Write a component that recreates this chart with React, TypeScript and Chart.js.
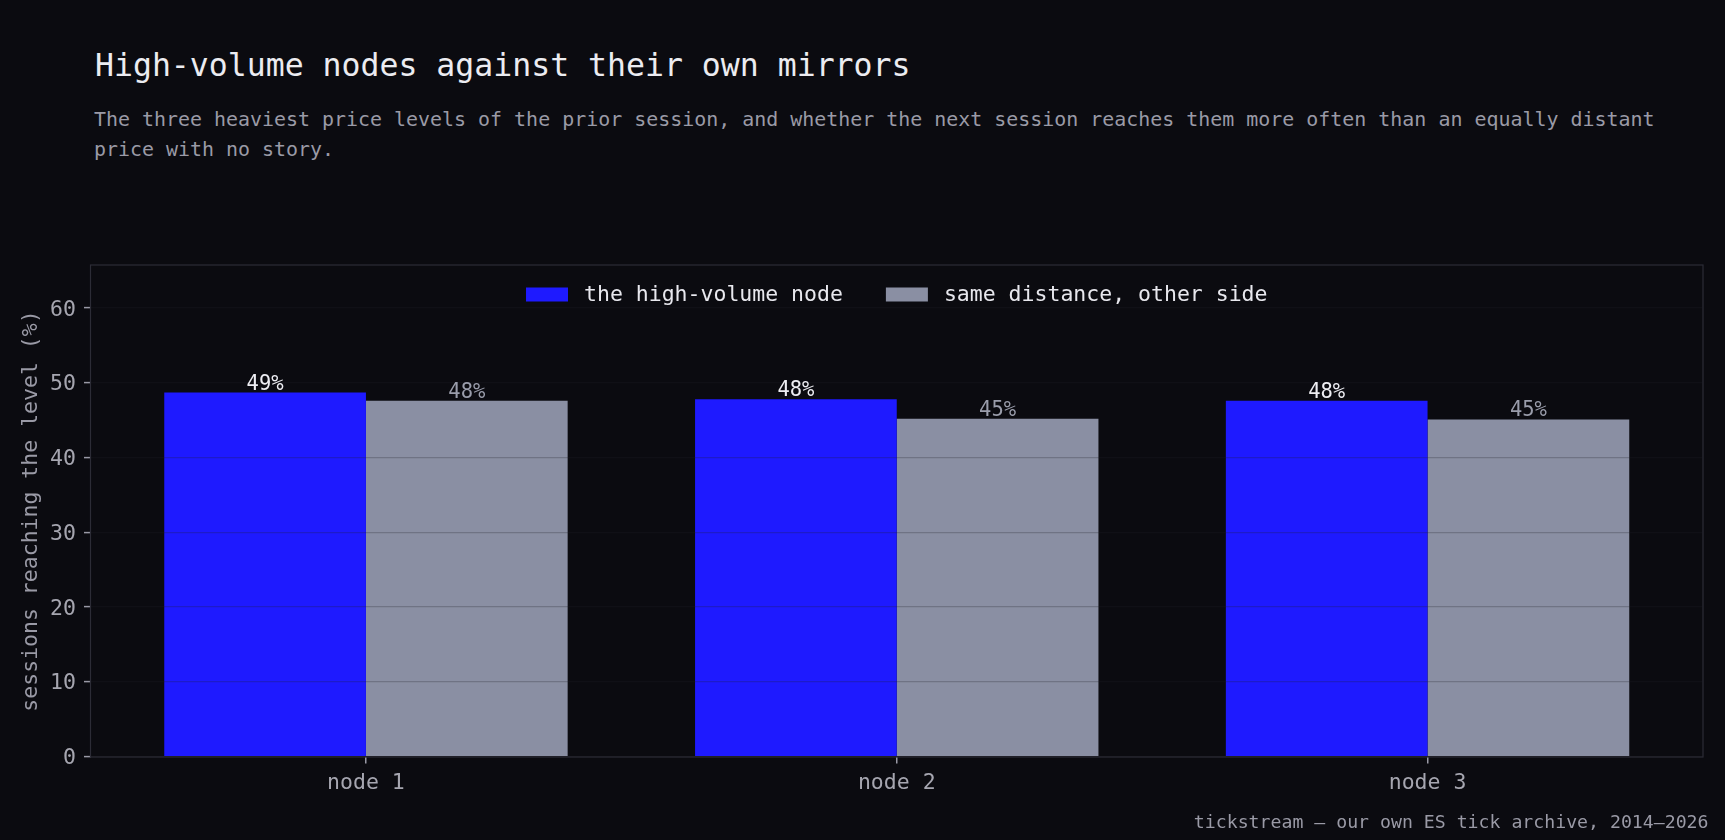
import React, { useEffect, useRef } from "react";
import { Chart, registerables } from "chart.js";

Chart.register(...registerables);

// ---- data ----
const categories = ["node 1", "node 2", "node 3"];
const seriesLabels = ["the high-volume node", "same distance, other side"];
const hvnValues = [48.7, 47.8, 47.6];
const mirrorValues = [47.6, 45.2, 45.1];
const yTickValues = [0, 10, 20, 30, 40, 50, 60];

const TITLE = "High-volume nodes against their own mirrors";
const SUBTITLE =
  "The three heaviest price levels of the prior session, and whether the next session reaches them more often than an equally distant price with no story.";
const Y_TITLE = "sessions reaching the level (%)";
const FOOTER = "tickstream — our own ES tick archive, 2014–2026";

// ---- style ----
const FONT = '"DejaVu Sans Mono", monospace';
const BG = "#0b0b10";
const BLUE = "#1e1aff";
const GREY = "#8a8fa3";
const FRAME = "#2c2c36";
const GRID = "rgba(30,30,40,0.25)";
const TICK_MARK = "#9a9aa6";
const TICK_TEXT = "#a6a6b0";
const AXIS_TITLE = "#9a9aa6";
const TITLE_COLOR = "#ececf1";
const SUB_COLOR = "#9a9aa6";
const LEGEND_TEXT = "#e8e8ee";
const LABEL_COLORS = ["#eeeef3", "#9a9dab"];

const GROUP = 0.76; // fraction of a category occupied by the pair of bars
const Y_MAX = 65.7;

const W = 1725;
const H = 840;

const framePlugin = {
  id: "frame",
  afterDraw(chart: any) {
    const { ctx, chartArea: a } = chart;
    ctx.save();
    ctx.strokeStyle = FRAME;
    ctx.lineWidth = 1.2;
    ctx.strokeRect(a.left - 0.5, a.top - 0.5, a.right - a.left + 1, a.bottom - a.top + 1);
    ctx.restore();
  },
};

const valueLabelPlugin = {
  id: "valueLabels",
  afterDraw(chart: any) {
    const { ctx } = chart;
    ctx.save();
    ctx.font = `20.5px ${FONT}`;
    ctx.textAlign = "center";
    ctx.textBaseline = "alphabetic";
    chart.data.datasets.forEach((ds: any, di: number) => {
      const meta = chart.getDatasetMeta(di);
      ctx.fillStyle = LABEL_COLORS[di];
      meta.data.forEach((bar: any, i: number) => {
        const v = ds.data[i].y;
        ctx.fillText(`${Math.round(v)}%`, bar.x, bar.y - 3);
      });
    });
    ctx.restore();
  },
};

const legendPlugin = {
  id: "inlineLegend",
  afterDraw(chart: any) {
    const { ctx, chartArea } = chart;
    ctx.save();
    ctx.font = `21.5px ${FONT}`;
    const boxW = 42;
    const boxH = 14;
    const gapText = 16;
    const gapItem = 43;
    const widths = chart.data.datasets.map(
      (ds: any) => boxW + gapText + ctx.measureText(ds.label).width
    );
    const total =
      widths.reduce((s: number, w: number) => s + w, 0) + gapItem * (widths.length - 1);
    let x = (chartArea.left + chartArea.right) / 2 - total / 2;
    const yc = chartArea.top + 29;
    chart.data.datasets.forEach((ds: any, i: number) => {
      ctx.fillStyle = ds.backgroundColor;
      ctx.fillRect(x, yc - boxH / 2, boxW, boxH);
      ctx.fillStyle = LEGEND_TEXT;
      ctx.textAlign = "left";
      ctx.textBaseline = "middle";
      ctx.fillText(ds.label, x + boxW + gapText, yc + 1);
      x += widths[i] + gapItem;
    });
    ctx.restore();
  },
};

export default function App() {
  const canvasRef = useRef<HTMLCanvasElement | null>(null);

  useEffect(() => {
    document.body.style.margin = "0";
    document.body.style.background = BG;
    const canvas = canvasRef.current;
    if (!canvas) return;

    const span = categories.length - 1 + GROUP;
    const xMin = -GROUP / 2 - 0.05 * span;
    const xMax = categories.length - 1 + GROUP / 2 + 0.05 * span;

    const chart = new Chart(canvas, {
      type: "bar",
      data: {
        datasets: [
          {
            label: seriesLabels[0],
            data: hvnValues.map((v, i) => ({ x: i, y: v })),
            backgroundColor: BLUE,
            borderWidth: 0,
            categoryPercentage: GROUP,
            barPercentage: 1,
          },
          {
            label: seriesLabels[1],
            data: mirrorValues.map((v, i) => ({ x: i, y: v })),
            backgroundColor: GREY,
            borderWidth: 0,
            categoryPercentage: GROUP,
            barPercentage: 1,
          },
        ],
      },
      options: {
        animation: false,
        responsive: false,
        devicePixelRatio: 1,
        layout: { padding: { top: 265.5, right: 22.5, bottom: 33.5, left: 0 } },
        plugins: {
          legend: { display: false },
          tooltip: { enabled: false },
          title: { display: false },
        },
        scales: {
          x: {
            type: "linear",
            min: xMin,
            max: xMax,
            offset: false,
            grid: {
              drawOnChartArea: false,
              drawTicks: true,
              tickLength: 7,
              tickColor: TICK_MARK,
              offset: false,
              lineWidth: 1.5,
            },
            border: { display: false },
            ticks: {
              autoSkip: false,
              maxRotation: 0,
              minRotation: 0,
              padding: 7,
              color: TICK_TEXT,
              font: { family: FONT, size: 21.5 },
              callback: (v: any) => categories[Math.round(Number(v))] ?? "",
            },
            afterBuildTicks: (scale: any) => {
              scale.ticks = categories.map((_, i) => ({ value: i }));
            },
            afterFit: (scale: any) => {
              scale.height = 50;
            },
          },
          y: {
            type: "linear",
            min: 0,
            max: Y_MAX,
            grid: {
              color: GRID,
              lineWidth: 1.2,
              drawTicks: true,
              tickLength: 7,
              tickColor: TICK_MARK,
              tickWidth: 1.5,
              z: 1,
            },
            border: { display: false },
            ticks: {
              includeBounds: false,
              stepSize: 10,
              padding: 8,
              labelOffset: 2,
              color: TICK_TEXT,
              font: { family: FONT, size: 21.5 },
            },
            afterBuildTicks: (scale: any) => {
              scale.ticks = yTickValues.map((v) => ({ value: v }));
            },
            title: {
              display: true,
              text: Y_TITLE,
              color: AXIS_TITLE,
              font: { family: FONT, size: 21.5 },
              padding: { top: 19, bottom: 0 },
            },
            afterFit: (scale: any) => {
              scale.width = 91;
            },
          },
        },
      },
      plugins: [framePlugin, valueLabelPlugin, legendPlugin],
    } as any);

    return () => chart.destroy();
  }, []);

  return (
    <div
      style={{
        position: "fixed",
        left: 0,
        top: 0,
        width: W,
        height: H,
        background: BG,
        overflow: "hidden",
        fontFamily: FONT,
      }}
    >
      <div
        style={{
          position: "absolute",
          left: 95,
          top: 47,
          fontSize: 31.5,
          lineHeight: "37.8px",
          color: TITLE_COLOR,
          whiteSpace: "nowrap",
        }}
      >
        {TITLE}
      </div>
      <div
        style={{
          position: "absolute",
          left: 94,
          top: 104,
          width: 1600,
          fontSize: 19.95,
          lineHeight: "30px",
          color: SUB_COLOR,
        }}
      >
        {SUBTITLE}
      </div>
      <canvas
        ref={canvasRef}
        width={W}
        height={H}
        style={{ position: "absolute", left: 0, top: 0, width: W, height: H }}
      />
      <div
        style={{
          position: "absolute",
          right: 16.5,
          top: 813,
          fontSize: 18.2,
          lineHeight: "18.2px",
          color: SUB_COLOR,
          whiteSpace: "nowrap",
        }}
      >
        {FOOTER}
      </div>
    </div>
  );
}
